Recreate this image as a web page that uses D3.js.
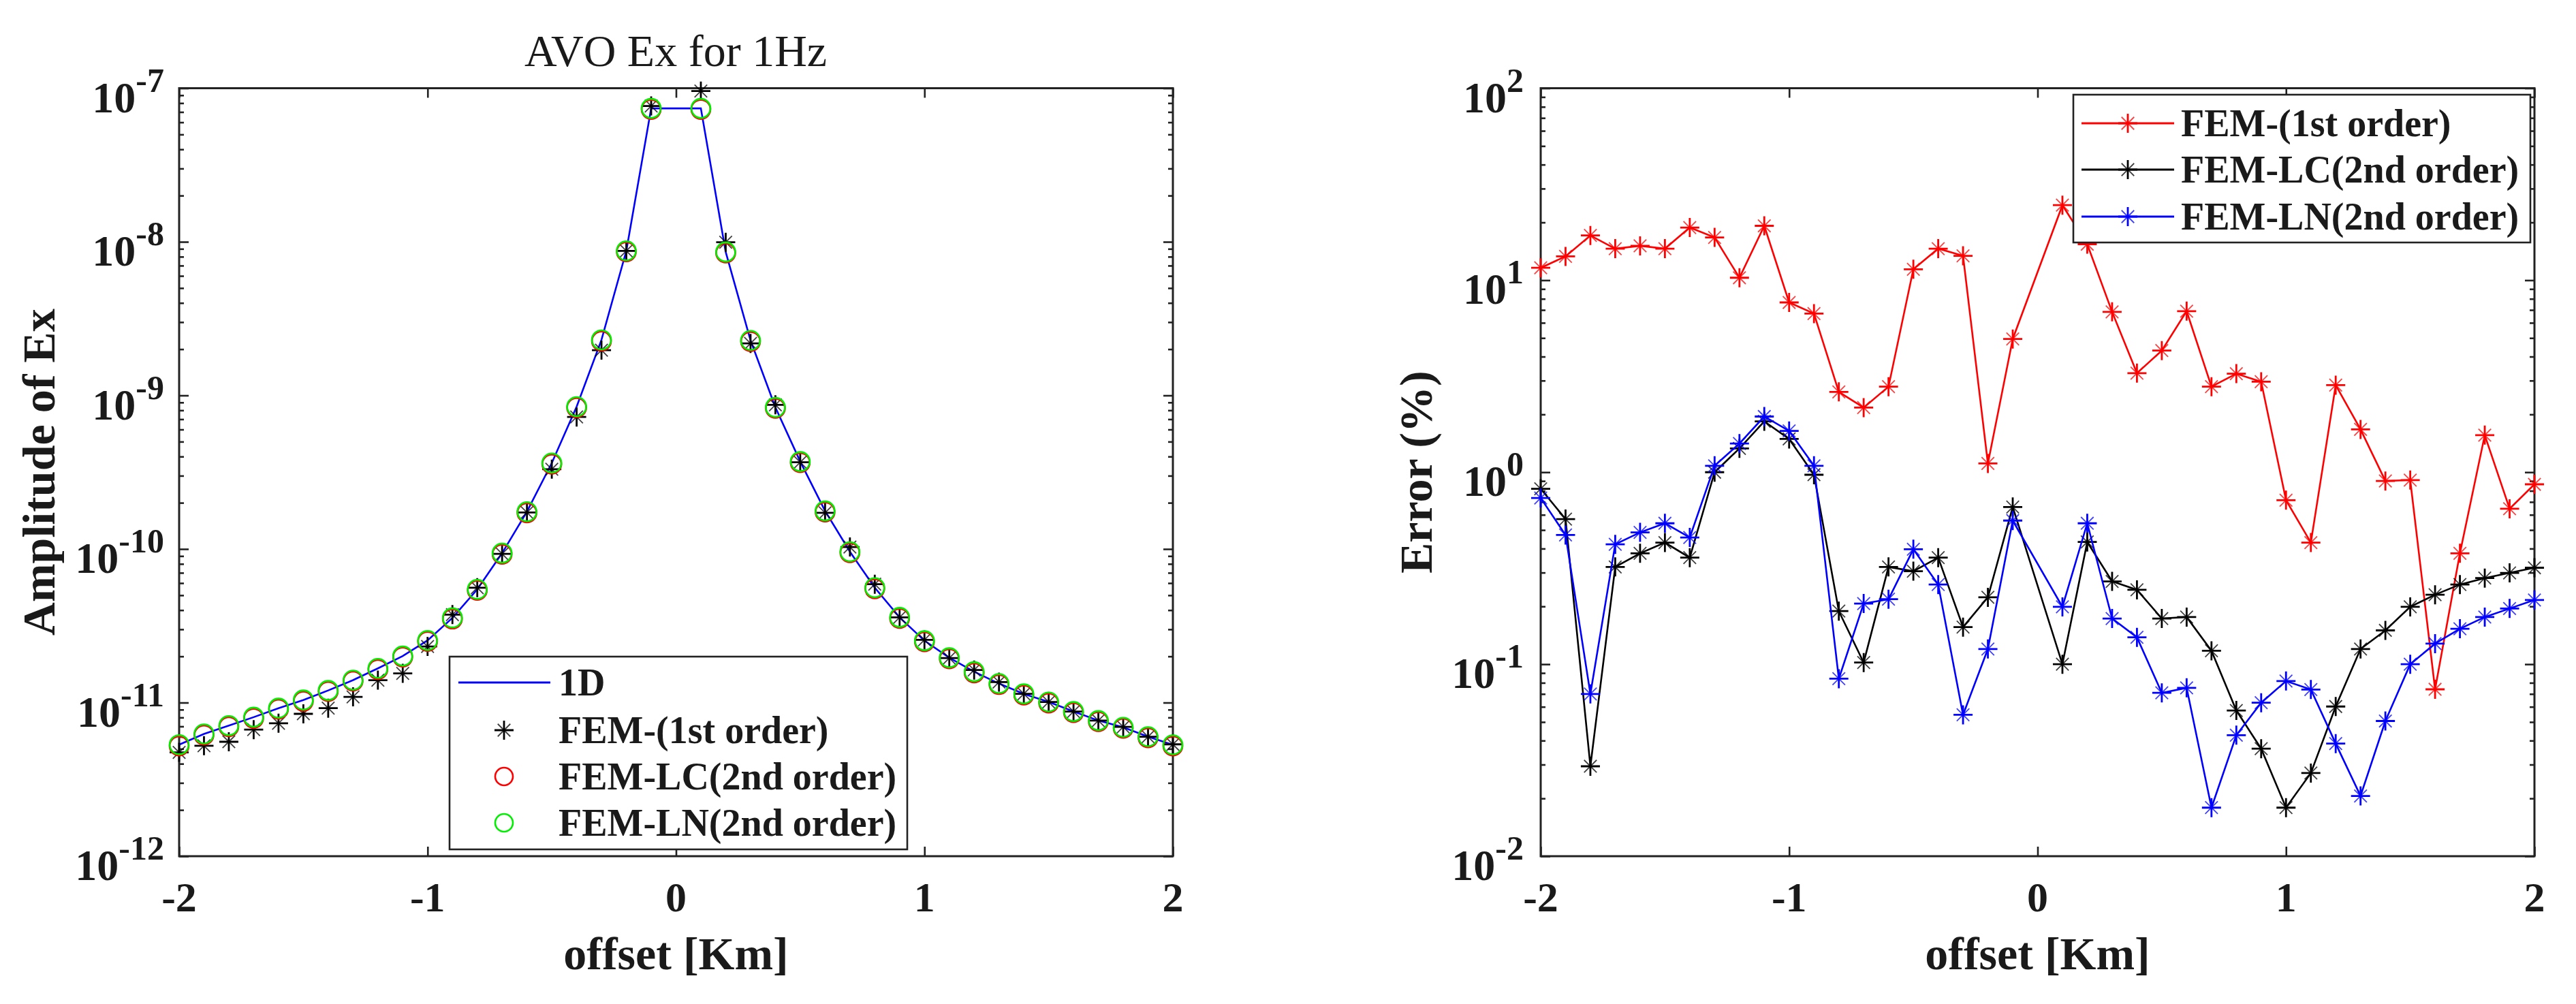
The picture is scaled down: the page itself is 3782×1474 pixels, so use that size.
<!DOCTYPE html>
<html><head><meta charset="utf-8">
<script src="https://cdn.jsdelivr.net/npm/d3@7"></script>
<style>
html,body{margin:0;padding:0;background:#fff;}
svg{display:block;}
text{font-family:"Liberation Serif","Times New Roman",Times,serif;fill:#1a1a1a;}
</style></head><body>
<svg id="chart" width="3782" height="1474"></svg>
<script>
// ---------------- data ----------------
const offsets = [-2.0,-1.9,-1.8,-1.7,-1.6,-1.5,-1.4,-1.3,-1.2,-1.1,-1.0,-0.9,-0.8,-0.7,-0.6,-0.5,-0.4,-0.3,-0.2,-0.1,
                  0.1, 0.2, 0.3, 0.4, 0.5, 0.6, 0.7, 0.8, 0.9, 1.0, 1.1, 1.2, 1.3, 1.4, 1.5, 1.6, 1.7, 1.8, 1.9, 2.0];

// Left panel: amplitude of Ex
const ampOneD = [5.32e-12,6.25e-12,7.08e-12,8.04e-12,9.2e-12,1.04e-11,1.20e-11,1.40e-11,1.67e-11,2.01e-11,
                 2.54e-11,3.56e-11,5.46e-11,9.4e-11,1.75e-10,3.63e-10,8.45e-10,2.30e-9,8.73e-9,7.39e-8,
                 7.39e-8,8.59e-9,2.28e-9,8.37e-10,3.71e-10,1.77e-10,9.6e-11,5.6e-11,3.59e-11,2.53e-11,
                 1.96e-11,1.59e-11,1.33e-11,1.14e-11,1.01e-11,8.75e-12,7.64e-12,6.91e-12,6.0e-12,5.31e-12];
const ampFem1st = [4.74e-12,5.24e-12,5.56e-12,6.67e-12,7.34e-12,8.45e-12,9.2e-12,1.09e-11,1.40e-11,1.55e-11,
                   2.32e-11,3.74e-11,5.6e-11,9.3e-11,1.73e-10,3.31e-10,7.24e-10,1.97e-9,8.73e-9,7.66e-8,
                   9.58e-8,9.93e-9,2.18e-9,8.68e-10,3.67e-10,1.72e-10,1.03e-10,5.9e-11,3.59e-11,2.56e-11,
                   1.95e-11,1.63e-11,1.36e-11,1.14e-11,1.01e-11,8.75e-12,7.64e-12,6.95e-12,6.0e-12,5.35e-12];
const ampFemLC = [5.22e-12,6.14e-12,6.96e-12,7.90e-12,9.05e-12,1.02e-11,1.18e-11,1.38e-11,1.64e-11,1.98e-11,
                  2.50e-11,3.50e-11,5.38e-11,9.25e-11,1.72e-10,3.57e-10,8.32e-10,2.26e-9,8.6e-9,7.28e-8,
                  7.28e-8,8.46e-9,2.24e-9,8.24e-10,3.65e-10,1.74e-10,9.45e-11,5.51e-11,3.53e-11,2.49e-11,
                  1.93e-11,1.56e-11,1.31e-11,1.12e-11,9.93e-12,8.6e-12,7.51e-12,6.8e-12,5.9e-12,5.22e-12];
const ampFemLN = [5.32e-12,6.25e-12,7.08e-12,8.04e-12,9.2e-12,1.04e-11,1.20e-11,1.40e-11,1.67e-11,2.01e-11,
                  2.54e-11,3.56e-11,5.46e-11,9.4e-11,1.75e-10,3.63e-10,8.45e-10,2.30e-9,8.73e-9,7.39e-8,
                  7.39e-8,8.59e-9,2.28e-9,8.37e-10,3.71e-10,1.77e-10,9.6e-11,5.6e-11,3.59e-11,2.53e-11,
                  1.96e-11,1.59e-11,1.33e-11,1.14e-11,1.01e-11,8.75e-12,7.64e-12,6.91e-12,6.0e-12,5.31e-12];

// Right panel: error (%)
const errFem1st = [11.6,13.3,17.1,14.6,15.1,14.6,18.8,16.7,10.3,19.2,7.66,6.70,2.62,2.17,2.79,11.4,14.6,13.4,1.11,4.94,
                   24.6,15.4,6.84,3.28,4.30,6.90,2.79,3.26,2.96,0.715,0.43,2.84,1.67,0.90,0.91,0.074,0.378,1.56,0.645,0.865];
const errFemLC = [0.82,0.57,0.0294,0.321,0.378,0.43,0.359,1.0,1.33,1.84,1.49,0.97,0.189,0.102,0.321,0.305,0.359,0.156,0.223,0.659,
                  0.100,0.433,0.27,0.244,0.173,0.176,0.1175,0.0574,0.0363,0.0179,0.0271,0.0602,0.12,0.15,0.199,0.23,0.26,0.281,0.299,0.318];
const errFemLN = [0.734,0.471,0.070,0.421,0.486,0.542,0.457,1.08,1.41,1.95,1.64,1.08,0.084,0.207,0.218,0.397,0.26,0.0545,0.12,0.56,
                  0.199,0.542,0.173,0.138,0.0709,0.0753,0.0179,0.0427,0.063,0.0817,0.0738,0.0386,0.0206,0.0506,0.1,0.128,0.153,0.176,0.195,0.216];

const xTicks = [-2,-1,0,1,2];
const xTickLabels = ["-2","-1","0","1","2"];
const ampTickExps = [-12,-11,-10,-9,-8,-7];
const errTickExps = [-2,-1,0,1,2];
const leftTitle = "AVO Ex for 1Hz";
const xLabel = "offset [Km]";
const leftYLabel = "Amplitude of Ex";
const rightYLabel = "Error (%)";
const leftLegend = ["1D","FEM-(1st order)","FEM-LC(2nd order)","FEM-LN(2nd order)"];
const rightLegend = ["FEM-(1st order)","FEM-LC(2nd order)","FEM-LN(2nd order)"];

// ---------------- drawing ----------------
const svg = d3.select("#chart");
const AX = "#222";

function starMarker(sel, r, color) {
  const d = r * 0.66;
  sel.append("path").attr("d", `M${-r},0H${r}M0,${-r}V${r}`)
     .attr("stroke", color).attr("stroke-width", 2.8).attr("fill", "none");
  sel.append("path").attr("d", `M${-d},${-d}L${d},${d}M${-d},${d}L${d},${-d}`)
     .attr("stroke", color).attr("stroke-width", 1.8).attr("fill", "none").attr("opacity", 0.75);
}

function makePanel(cfg) {
  const g = svg.append("g");
  const L = cfg.left, R = cfg.left + cfg.width, T = cfg.top, B = cfg.bottom;
  const x = d3.scaleLinear().domain([-2, 2]).range([L, R]);
  const y = d3.scaleLog().domain([Math.pow(10, cfg.exps[0]), Math.pow(10, cfg.exps[cfg.exps.length - 1])]).range([B, T]);

  const majors = cfg.exps.map(e => Math.pow(10, e));
  const minors = [];
  for (let i = 0; i < cfg.exps.length - 1; i++) for (let k = 2; k <= 9; k++) minors.push(k * Math.pow(10, cfg.exps[i]));

  const styleAxis = s => { s.select(".domain").remove(); s.selectAll("text").remove();
    s.selectAll("line").attr("stroke", AX).attr("stroke-width", 2.6); };
  g.append("g").attr("transform", `translate(0,${B})`).call(d3.axisBottom(x).tickValues(xTicks).tickSize(-14)).call(styleAxis);
  g.append("g").attr("transform", `translate(0,${T})`).call(d3.axisTop(x).tickValues(xTicks).tickSize(-14)).call(styleAxis);
  g.append("g").attr("transform", `translate(${L},0)`).call(d3.axisLeft(y).tickValues(majors).tickSize(-14)).call(styleAxis);
  g.append("g").attr("transform", `translate(${L},0)`).call(d3.axisLeft(y).tickValues(minors).tickSize(-7)).call(styleAxis);
  g.append("g").attr("transform", `translate(${R},0)`).call(d3.axisRight(y).tickValues(majors).tickSize(-14)).call(styleAxis);
  g.append("g").attr("transform", `translate(${R},0)`).call(d3.axisRight(y).tickValues(minors).tickSize(-7)).call(styleAxis);

  g.append("rect").attr("x", L).attr("y", T).attr("width", R - L).attr("height", B - T)
    .attr("fill", "none").attr("stroke", AX).attr("stroke-width", 3);

  // x tick labels
  g.selectAll(".xtl").data(xTicks).enter().append("text")
    .attr("x", d => x(d)).attr("y", B + 81).attr("text-anchor", "middle")
    .attr("font-size", 62).attr("font-weight", "bold").text((d, i) => xTickLabels[i]);
  // y tick labels 10^e
  cfg.exps.forEach(e => {
    const t = g.append("text").attr("x", L - cfg.ylabGap).attr("y", y(Math.pow(10, e)) + 35)
      .attr("text-anchor", "end").attr("font-weight", "bold");
    t.append("tspan").attr("font-size", 64).text("10");
    t.append("tspan").attr("font-size", 50).attr("dy", -30).text(String(e));
  });
  // axis labels
  g.append("text").attr("x", (L + R) / 2).attr("y", 1423).attr("text-anchor", "middle")
    .attr("font-size", 68).attr("font-weight", "bold").text(xLabel);
  g.append("text").attr("transform", `translate(${cfg.ylabelX},${(T + B) / 2}) rotate(-90)`)
    .attr("text-anchor", "middle").attr("font-size", 68).attr("font-weight", "bold").text(cfg.ylabel);

  return {g, x, y};
}

// ---------- Left panel ----------
const P1 = makePanel({left: 263, width: 1459, top: 129.5, bottom: 1257, exps: ampTickExps,
                      ylabGap: 22, ylabelX: 80, ylabel: leftYLabel});
{
  const {g, x, y} = P1;
  g.append("text").attr("x", 992).attr("y", 97).attr("text-anchor", "middle")
    .attr("font-size", 66).text(leftTitle);
  const line = d3.line().x((d, i) => x(offsets[i])).y(d => y(d));
  g.append("path").datum(ampOneD).attr("d", line).attr("fill", "none")
    .attr("stroke", "#0000ff").attr("stroke-width", 2.6);
  g.selectAll(".s1").data(ampFem1st).enter().append("g")
    .attr("transform", (d, i) => `translate(${x(offsets[i])},${y(d)})`)
    .each(function () { starMarker(d3.select(this), 14, "#000"); });
  g.selectAll(".c1").data(ampFemLC).enter().append("circle")
    .attr("cx", (d, i) => x(offsets[i])).attr("cy", d => y(d)).attr("r", 14)
    .attr("fill", "none").attr("stroke", "#ff0000").attr("stroke-width", 2.6);
  g.selectAll(".c2").data(ampFemLN).enter().append("circle")
    .attr("cx", (d, i) => x(offsets[i])).attr("cy", d => y(d)).attr("r", 14)
    .attr("fill", "none").attr("stroke", "#00ee00").attr("stroke-width", 2.6);

  // legend
  const lg = g.append("g");
  lg.append("rect").attr("x", 660).attr("y", 964).attr("width", 672).attr("height", 283)
    .attr("fill", "#fff").attr("stroke", AX).attr("stroke-width", 2.6);
  const rows = [1002, 1072, 1140, 1208];
  lg.append("line").attr("x1", 673).attr("x2", 808).attr("y1", rows[0]).attr("y2", rows[0])
    .attr("stroke", "#0000ff").attr("stroke-width", 2.8);
  starMarker(lg.append("g").attr("transform", `translate(740,${rows[1]})`), 14, "#000");
  lg.append("circle").attr("cx", 740).attr("cy", rows[2]).attr("r", 13).attr("fill", "none")
    .attr("stroke", "#ff0000").attr("stroke-width", 2.6);
  lg.append("circle").attr("cx", 740).attr("cy", rows[3]).attr("r", 13).attr("fill", "none")
    .attr("stroke", "#00ee00").attr("stroke-width", 2.6);
  leftLegend.forEach((t, i) => lg.append("text").attr("x", 820).attr("y", rows[i] + 19)
    .attr("font-size", 56).attr("font-weight", "bold").text(t));
}

// ---------- Right panel ----------
const P2 = makePanel({left: 2262, width: 1459, top: 129.5, bottom: 1257, exps: errTickExps,
                      ylabGap: 25, ylabelX: 2102, ylabel: rightYLabel});
{
  const {g, x, y} = P2;
  const series = [
    {vals: errFem1st, color: "#ff0000"},
    {vals: errFemLC, color: "#000000"},
    {vals: errFemLN, color: "#0000ff"}
  ];
  const line = d3.line().x((d, i) => x(offsets[i])).y(d => y(d));
  series.forEach(s => {
    g.append("path").datum(s.vals).attr("d", line).attr("fill", "none")
      .attr("stroke", s.color).attr("stroke-width", 2.6);
    g.selectAll(null).data(s.vals).enter().append("g")
      .attr("transform", (d, i) => `translate(${x(offsets[i])},${y(d)})`)
      .each(function () { starMarker(d3.select(this), 14, s.color); });
  });
  const lg = g.append("g");
  lg.append("rect").attr("x", 3044).attr("y", 139).attr("width", 671).attr("height", 217)
    .attr("fill", "#fff").attr("stroke", AX).attr("stroke-width", 2.6);
  const rows = [181, 249, 318];
  series.forEach((s, i) => {
    lg.append("line").attr("x1", 3056).attr("x2", 3192).attr("y1", rows[i]).attr("y2", rows[i])
      .attr("stroke", s.color).attr("stroke-width", 2.8);
    starMarker(lg.append("g").attr("transform", `translate(3124,${rows[i]})`), 14, s.color);
    lg.append("text").attr("x", 3202).attr("y", rows[i] + 19).attr("font-size", 56)
      .attr("font-weight", "bold").text(rightLegend[i]);
  });
}
</script>
</body></html>
